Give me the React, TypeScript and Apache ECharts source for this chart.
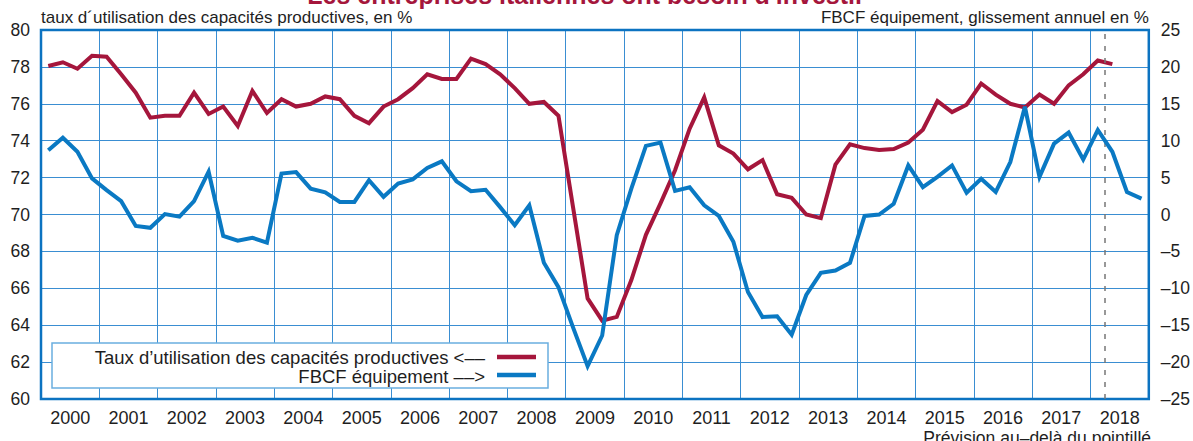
import React, { useEffect, useRef } from "react";
import * as echarts from "echarts";

const years = ["2000","2001","2002","2003","2004","2005","2006","2007","2008","2009","2010","2011","2012","2013","2014","2015","2016","2017","2018"];

// Taux d'utilisation des capacités productives (%), quarterly from 2000Q1 to 2018Q2
const tauxUtilisation = [
  78.05, 78.25, 77.9, 78.6,
  78.55, 77.6, 76.6, 75.25,
  75.35, 75.35, 76.6, 75.45,
  75.85, 74.8, 76.7, 75.5,
  76.25, 75.85, 76.0, 76.4,
  76.25, 75.35, 74.95, 75.85,
  76.25, 76.85, 77.6, 77.35,
  77.35, 78.45, 78.15, 77.6,
  76.85, 76.0, 76.1, 75.35,
  70.4, 65.45, 64.25, 64.45,
  66.45, 68.9, 70.6, 72.4,
  74.65, 76.35, 73.75, 73.3,
  72.45, 72.95, 71.1, 70.9,
  70.0, 69.8, 72.7, 73.8,
  73.6, 73.5, 73.55, 73.9,
  74.6, 76.15, 75.55, 75.95,
  77.1, 76.5, 76.0, 75.8,
  76.5, 76.0, 77.0, 77.6,
  78.35, 78.15,
];

// FBCF équipement, glissement annuel (%), quarterly from 2000Q1 to 2018Q4
const fbcfEquipement = [
  8.7, 10.4, 8.5, 4.9,
  3.3, 1.8, -1.55, -1.8,
  0.05, -0.3, 1.8, 5.8,
  -2.9, -3.55, -3.15, -3.8,
  5.55, 5.75, 3.5, 3.0,
  1.7, 1.7, 4.65, 2.4,
  4.2, 4.75, 6.3, 7.2,
  4.5, 3.15, 3.35, 1.0,
  -1.45, 1.25, -6.55, -9.85,
  -15.3, -20.55, -16.4, -2.8,
  3.5, 9.3, 9.75, 3.2,
  3.7, 1.25, -0.2, -3.7,
  -10.5, -13.9, -13.8, -16.3,
  -10.9, -7.9, -7.6, -6.55,
  -0.2, 0.0, 1.45, 6.65,
  3.7, 5.1, 6.65, 2.95,
  4.85, 3.05, 7.1, 14.6,
  5.1, 9.6, 11.1, 7.45,
  11.45, 8.5, 3.05, 2.15,
];

// Forecast starts after 2018Q1 (quarter index boundary)
const forecastBoundaryQuarter = 73;

const leftTicks = { min: 60, max: 80, interval: 2 };
const rightTicks = { min: -25, max: 25, interval: 5 };

const titleText = "Les entreprises italiennes ont besoin d'investir";
const leftAxisName = "taux d´utilisation des capacités productives, en %";
const rightAxisName = "FBCF équipement, glissement annuel en %";
const legendLabels = [
  "Taux d’utilisation des capacités productives <––",
  "FBCF équipement ––>",
];
const noteText = "Prévision au–delà du pointillé";

const RED = "#a5163c";
const BLUE = "#0a79c3";
const GRID = "#3a8ed2";
const FRAME = "#0c73c1";
const TEXT = "#1e1e1e";
const FONT = "'Liberation Sans', Arial, Helvetica, sans-serif";

export default function App() {
  const ref = useRef<HTMLDivElement>(null);

  useEffect(() => {
    if (!ref.current) return;
    const chart = echarts.init(ref.current, null, { renderer: "svg" });
    const nQuarters = years.length * 4;

    const option: any = {
      animation: false,
      backgroundColor: "#ffffff",
      textStyle: { fontFamily: FONT },
      grid: {
        left: 41,
        right: 42,
        top: 30,
        bottom: 42,
        show: true,
        borderColor: FRAME,
        borderWidth: 2.5,
        backgroundColor: "transparent",
        z: 3,
      },
      xAxis: [
        {
          type: "value",
          min: 0,
          max: nQuarters,
          show: false,
          position: "bottom",
        },
        {
          type: "category",
          data: years,
          boundaryGap: true,
          position: "bottom",
          axisLine: { show: false },
          axisTick: { show: false },
          axisLabel: {
            color: TEXT,
            fontSize: 18,
            fontFamily: FONT,
            margin: 10,
            interval: 0,
          },
          splitLine: {
            show: true,
            interval: 0,
            lineStyle: { color: GRID, width: 1 },
          },
        },
      ],
      yAxis: [
        {
          type: "value",
          position: "left",
          min: leftTicks.min,
          max: leftTicks.max,
          interval: leftTicks.interval,
          name: leftAxisName,
          nameLocation: "end",
          nameGap: 4,
          nameTextStyle: {
            align: "left",
            color: TEXT,
            fontSize: 17,
            fontFamily: FONT,
          },
          axisLine: { show: false },
          axisTick: { show: false },
          axisLabel: { color: TEXT, fontSize: 17.5, fontFamily: FONT, margin: 11 },
          splitLine: { show: true, lineStyle: { color: GRID, width: 1 } },
        },
        {
          type: "value",
          position: "right",
          min: rightTicks.min,
          max: rightTicks.max,
          interval: rightTicks.interval,
          name: rightAxisName,
          nameLocation: "end",
          nameGap: 4,
          nameTextStyle: {
            align: "right",
            color: TEXT,
            fontSize: 17,
            fontFamily: FONT,
          },
          axisLine: { show: false },
          axisTick: { show: false },
          axisLabel: {
            color: TEXT,
            fontSize: 17.5,
            fontFamily: FONT,
            margin: 12,
            formatter: (v: number) => (v < 0 ? "–" + Math.abs(v) : String(v)),
          },
          splitLine: { show: false },
        },
      ],
      series: [
        {
          name: legendLabels[0],
          type: "line",
          xAxisIndex: 0,
          yAxisIndex: 0,
          symbol: "none",
          z: 4,
          lineStyle: { color: RED, width: 4, join: "miter" },
          itemStyle: { color: RED },
          data: tauxUtilisation.map((v, i) => [i + 0.5, v]),
        },
        {
          name: legendLabels[1],
          type: "line",
          xAxisIndex: 0,
          yAxisIndex: 1,
          symbol: "none",
          z: 5,
          lineStyle: { color: BLUE, width: 4, join: "miter" },
          itemStyle: { color: BLUE },
          data: fbcfEquipement.map((v, i) => [i + 0.5, v]),
          markLine: {
            silent: true,
            symbol: ["none", "none"],
            label: { show: false },
            lineStyle: { color: "#777777", type: [5, 7], width: 1.5 },
            data: [{ xAxis: forecastBoundaryQuarter }],
          },
        },
      ],
      graphic: [
        {
          type: "text",
          x: 586,
          y: -18,
          style: {
            text: titleText,
            fill: RED,
            font: `bold 25px ${FONT}`,
            align: "center",
          },
          z: 10,
        },
        {
          type: "rect",
          shape: { x: 52, y: 343, width: 496, height: 45 },
          style: { fill: "#ffffff", stroke: "#6aaee0", lineWidth: 1.5 },
          z: 6,
        },
        {
          type: "text",
          x: 485,
          y: 357,
          style: {
            text: legendLabels[0],
            fill: TEXT,
            font: `18.5px ${FONT}`,
            align: "right",
            verticalAlign: "middle",
          },
          z: 7,
        },
        {
          type: "text",
          x: 485,
          y: 376,
          style: {
            text: legendLabels[1],
            fill: TEXT,
            font: `18.5px ${FONT}`,
            align: "right",
            verticalAlign: "middle",
          },
          z: 7,
        },
        {
          type: "line",
          shape: { x1: 497, y1: 357, x2: 536, y2: 357 },
          style: { stroke: RED, lineWidth: 4.5 },
          z: 7,
        },
        {
          type: "line",
          shape: { x1: 497, y1: 375, x2: 536, y2: 375 },
          style: { stroke: BLUE, lineWidth: 4.5 },
          z: 7,
        },
        {
          type: "text",
          x: 1151,
          y: 438,
          style: {
            text: noteText,
            fill: TEXT,
            font: `17.5px ${FONT}`,
            align: "right",
            verticalAlign: "middle",
          },
          z: 7,
        },
      ],
    };

    chart.setOption(option);
    return () => chart.dispose();
  }, []);

  return (
    <div
      ref={ref}
      style={{ position: "fixed", left: 0, top: 0, width: 1193, height: 441, background: "#fff" }}
    />
  );
}
